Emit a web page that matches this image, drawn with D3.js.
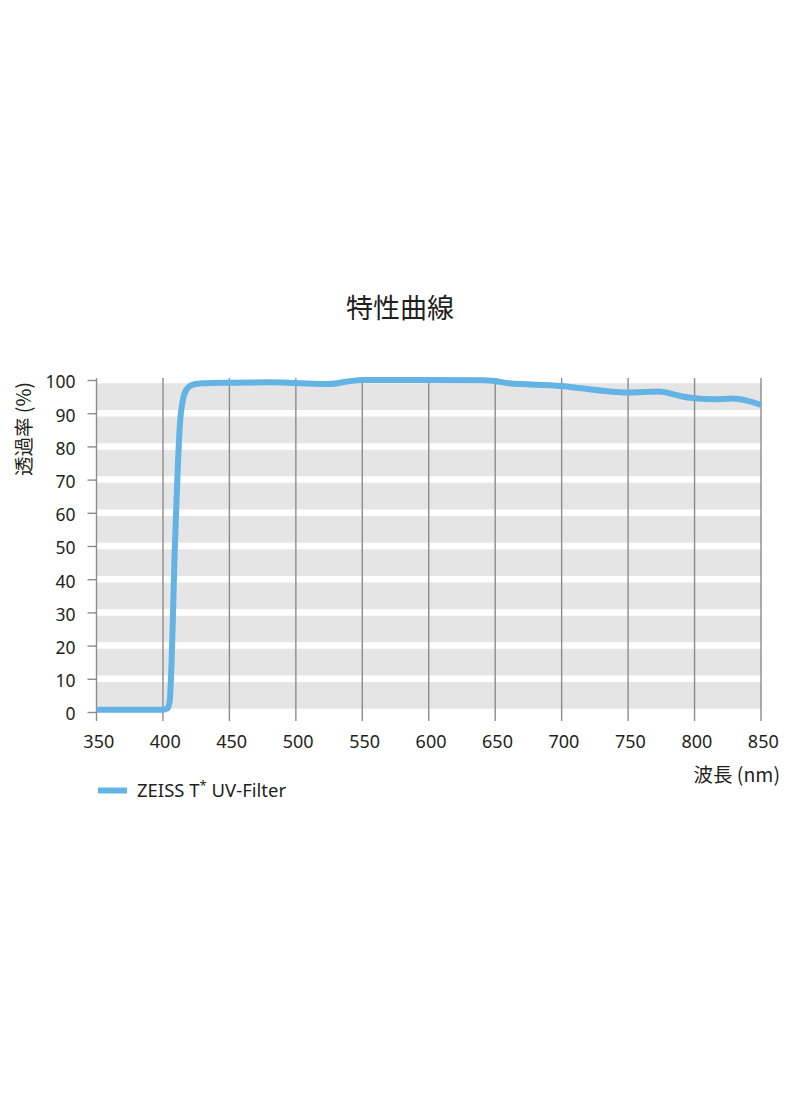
<!DOCTYPE html>
<html>
<head>
<meta charset="utf-8">
<script src="https://cdn.jsdelivr.net/npm/d3@7"></script>
<style>
  html, body { margin: 0; padding: 0; background: #fff; }
  svg { display: block; }
  text { font-family: "Noto Sans", "Noto Sans CJK JP", sans-serif; fill: #231f20; }
</style>
</head>
<body>
<div id="chart"></div>
<script>
const title = "特性曲線";
const yTitle = "透過率 (%)";
const xTitle = "波長 (nm)";
const seriesName = "ZEISS T* UV-Filter";

const xTicks = [350, 400, 450, 500, 550, 600, 650, 700, 750, 800, 850];
const yTicks = [0, 10, 20, 30, 40, 50, 60, 70, 80, 90, 100];

const wavelength = [350, 400, 403, 405, 406, 409, 413, 415, 418, 422, 430, 450, 480, 500, 525, 540, 550, 600, 640, 650, 660, 700, 715, 740, 750, 773, 790, 800, 815, 828, 840, 850];
const transmission = [0.7, 0.7, 1.0, 3, 10, 50, 88, 94, 97.3, 98.5, 99, 99.2, 99.3, 99.1, 98.8, 99.6, 100, 100, 99.9, 99.7, 99.0, 98.2, 97.5, 96.4, 96.2, 96.5, 95.1, 94.5, 94.2, 94.4, 93.7, 92.5];

const W = 800, H = 1096;
const svg = d3.select("#chart").append("svg").attr("width", W).attr("height", H);

const x = d3.scaleLinear().domain([350, 850]).range([96.5, 761]);
const y = d3.scaleLinear().domain([0, 100]).range([712, 380]);

const gridColor = "#8c8c8c";
const lineColor = "#63b3e4";

// background band
svg.append("rect")
  .attr("x", x(350)).attr("y", y(100))
  .attr("width", x(850) - x(350)).attr("height", y(0) - y(100))
  .attr("fill", "#e5e5e5");

// white horizontal separators
svg.append("g").selectAll("line").data(yTicks).join("line")
  .attr("x1", x(350)).attr("x2", x(850))
  .attr("y1", d => y(d)).attr("y2", d => y(d))
  .attr("stroke", "#fff").attr("stroke-width", 6.5);

// vertical grid lines
svg.append("g").selectAll("line").data(xTicks).join("line")
  .attr("x1", d => x(d)).attr("x2", d => x(d))
  .attr("y1", y(100) - 2).attr("y2", y(0) + 9)
  .attr("stroke", gridColor).attr("stroke-width", 1.4);

// y axis
const yAxis = d3.axisLeft(y).tickValues(yTicks).tickSize(9).tickPadding(12);
const gy = svg.append("g").attr("transform", `translate(${x(350)},0)`).call(yAxis);
gy.select(".domain").remove();
gy.selectAll(".tick line").attr("stroke", gridColor).attr("stroke-width", 1.4);
gy.selectAll(".tick text").attr("font-size", 17.5).attr("dy", "0.45em")
  .style("font-family", '"Noto Sans", sans-serif').attr("fill", "#231f20");

// x axis labels
const xAxis = d3.axisBottom(x).tickValues(xTicks).tickSize(0).tickPadding(23);
const gx = svg.append("g").attr("transform", `translate(0,${y(0)})`).call(xAxis);
gx.select(".domain").remove();
gx.selectAll(".tick text").attr("font-size", 18).attr("dx", "0.1em")
  .style("font-family", '"Noto Sans", sans-serif').attr("fill", "#231f20");

// data line
const line = d3.line().x((d, i) => x(wavelength[i])).y(d => y(d)).curve(d3.curveMonotoneX);
svg.append("path").datum(transmission)
  .attr("d", line).attr("fill", "none")
  .attr("stroke", lineColor).attr("stroke-width", 6)
  .attr("stroke-linejoin", "round").attr("stroke-linecap", "butt");

// title
svg.append("text").attr("x", 400).attr("y", 318).attr("text-anchor", "middle")
  .attr("font-size", 27).style("font-family", '"Noto Sans CJK JP", sans-serif').text(title);

// y title
svg.append("text").attr("transform", "translate(31,429) rotate(-90)")
  .attr("text-anchor", "middle").attr("font-size", 19.5)
  .style("font-family", '"Noto Sans CJK JP", sans-serif').text(yTitle);

// x title
svg.append("text").attr("x", 780).attr("y", 782).attr("text-anchor", "end")
  .attr("font-size", 19.5).style("font-family", '"Noto Sans CJK JP", sans-serif').text(xTitle);

// legend
svg.append("line").attr("x1", 98).attr("x2", 127).attr("y1", 790.5).attr("y2", 790.5)
  .attr("stroke", lineColor).attr("stroke-width", 6);
const lt = svg.append("text").attr("x", 137).attr("y", 797).attr("font-size", 18.5)
  .style("font-family", '"Noto Sans", sans-serif');
lt.append("tspan").text("ZEISS T");
lt.append("tspan").attr("dy", -7).attr("font-size", 13).text("*");
lt.append("tspan").attr("dy", 7).text(" UV-Filter");
</script>
</body>
</html>
